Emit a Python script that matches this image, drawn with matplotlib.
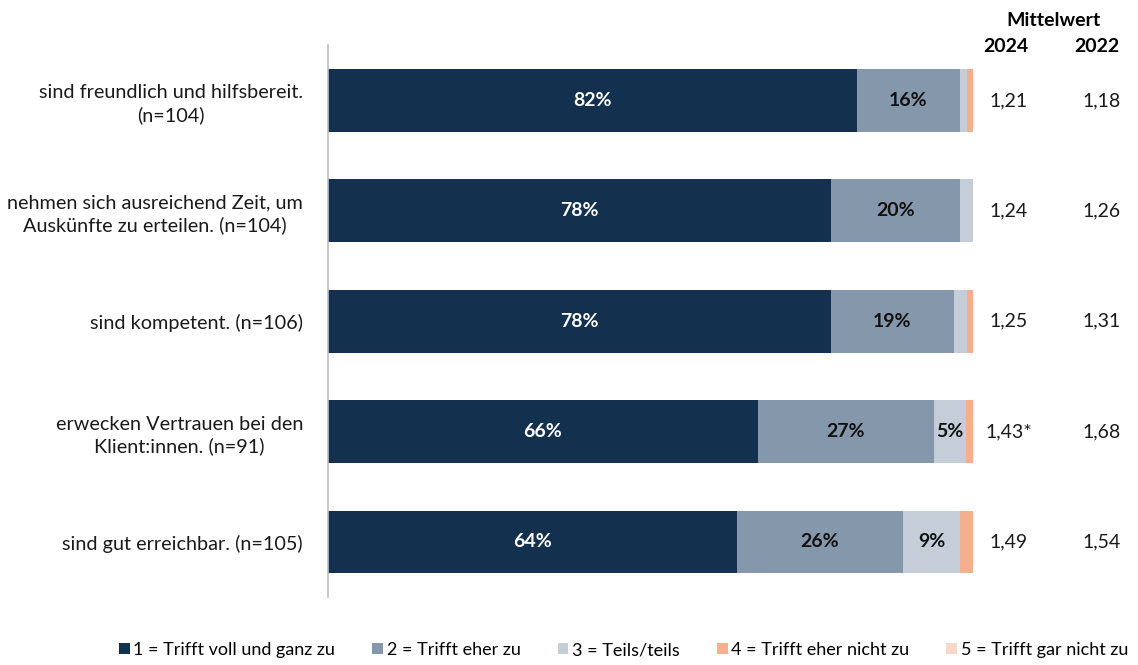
import numpy as np
import matplotlib.pyplot as plt

plt.rcParams['font.family'] = ['Lato', 'DejaVu Sans']

# Daten
items = ["sind freundlich und hilfsbereit.\n(n=104)",
         "nehmen sich ausreichend Zeit, um\nAuskünfte zu erteilen. (n=104)",
         "sind kompetent. (n=106)",
         "erwecken Vertrauen bei den\nKlient:innen. (n=91)",
         "sind gut erreichbar. (n=105)"]
voll = [82, 78, 78, 66, 64]
eher = [16, 20, 19, 27, 26]
teils = [1, 2, 2, 5, 9]
eher_nicht = [1, 0, 1, 1, 2]
gar_nicht = [0, 0, 0, 0, 0]
mw_2024 = ["1,21", "1,24", "1,25", "1,43*", "1,49"]
mw_2022 = ["1,18", "1,26", "1,31", "1,68", "1,54"]

legend_labels = ["1 = Trifft voll und ganz zu", "2 = Trifft eher zu", "3 = Teils/teils",
                 "4 = Trifft eher nicht zu", "5 = Trifft gar nicht zu"]
colors = ["#14304f", "#8597aa", "#c5ced8", "#f4b08e", "#f9d8c9"]
text_colors = ["white", "#111111", "#111111", "#111111", "#111111"]

series = np.array([voll, eher, teils, eher_nicht, gar_nicht], dtype=float)
totals = series.sum(axis=0)
shares = series / totals * 100  # auf 100% normiert fuer die Balkenlaenge

fig = plt.figure(figsize=(11.38, 6.65), dpi=100)
ax = fig.add_axes([0.2882, 0.102, 0.5668, 0.830])

y = np.arange(len(items))
left = np.zeros(len(items))
handles = []
for k in range(5):
    h = ax.barh(y, shares[k], left=left, height=0.57, color=colors[k],
                label=legend_labels[k])
    handles.append(h)
    for i in range(len(items)):
        if series[k, i] >= 5:
            ax.text(left[i] + shares[k, i] / 2, y[i], f"{int(series[k, i])}%",
                    ha="center", va="center", fontsize=14, fontweight="bold",
                    color=text_colors[k])
    left += shares[k]

ax.set_xlim(0, 100)
ax.set_ylim(4.5, -0.5)
ax.set_xticks([])
ax.set_yticks(y)
ax.set_yticklabels(items, fontsize=14.3, ha="right", multialignment="center",
                   linespacing=1.3, color="#1a1a1a")
ax.tick_params(axis="y", length=0, pad=18)
for s in ["top", "right", "bottom"]:
    ax.spines[s].set_visible(False)
ax.spines["left"].set_color("#bfbfbf")
ax.spines["left"].set_linewidth(1.2)

# Mittelwerte
tr = ax.get_yaxis_transform()
for i in range(len(items)):
    ax.text(1.055, y[i], mw_2024[i], transform=tr, ha="center", va="center",
            fontsize=14, color="#1a1a1a", clip_on=False)
    ax.text(1.2, y[i], mw_2022[i], transform=tr, ha="center", va="center",
            fontsize=14, color="#1a1a1a", clip_on=False)
fig.text(1054 / 1138, 1 - 20 / 665, "Mittelwert", ha="center", va="center",
         fontsize=14, fontweight="bold")
fig.text(1006 / 1138, 1 - 47 / 665, "2024", ha="center", va="center",
         fontsize=14, fontweight="bold")
fig.text(1097 / 1138, 1 - 47 / 665, "2022", ha="center", va="center",
         fontsize=14, fontweight="bold")

fig.legend(handles=handles, loc="center", bbox_to_anchor=(0.548, 1 - 650 / 665),
           ncol=5, frameon=False, fontsize=13, handlelength=0.6, handleheight=0.6,
           handletextpad=0.2, columnspacing=2.05)

plt.savefig("out.png", dpi=100)
